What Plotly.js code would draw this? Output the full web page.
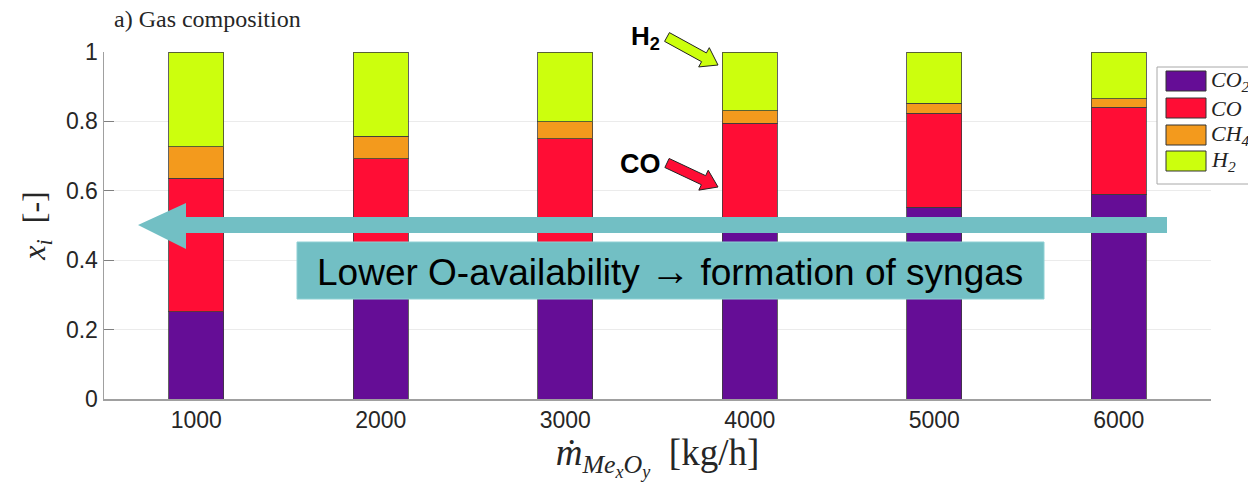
<!DOCTYPE html>
<html>
<head>
<meta charset="utf-8">
<script src="https://cdn.plot.ly/plotly-3.0.1.min.js"></script>
<style>html,body{margin:0;padding:0;background:#fff;}#chart{width:1248px;height:482px;}</style>
</head>
<body>
<div id="chart"></div>
<script>
// ---- data ----
const massFlow = [1000, 2000, 3000, 4000, 5000, 6000];
const xCO2 = [0.252, 0.340, 0.420, 0.490, 0.552, 0.590];
const xCO  = [0.384, 0.352, 0.330, 0.305, 0.271, 0.251];
const xCH4 = [0.091, 0.065, 0.049, 0.036, 0.029, 0.024];
const xH2  = [0.273, 0.243, 0.201, 0.169, 0.148, 0.135];
const seriesNames = ['<i>CO<sub>2</sub></i>', '<i>CO</i>', '<i>CH<sub>4</sub></i>', '<i>H<sub>2</sub></i>'];
const yTicks = [0, 0.2, 0.4, 0.6, 0.8, 1];
const yTickText = ['0', '0.2', '0.4', '0.6', '0.8', '1'];

const colors = ['#650D96', '#FF0D35', '#F39A1D', '#CCFF0D'];
const W = 1248, H = 482;
const L = 104, R = 1211, T = 52, B = 399;
const px = x => (x - L) / (R - L);
const py = y => (B - y) / (B - T);

const seriesVals = [xCO2, xCO, xCH4, xH2];
const traces = seriesVals.map((v, i) => ({
  type: 'bar', x: massFlow, y: v, name: seriesNames[i], width: 300,
  marker: {color: colors[i], line: {color: 'rgba(60,60,60,0.8)', width: 1}},
  hoverinfo: 'skip', showlegend: false
}));

function poly(pts) {
  return 'M ' + pts.map(p => px(p[0]) + ' ' + py(p[1])).join(' L ') + ' Z';
}
const bigArrow = poly([[1167,217],[186,217],[186,203],[138,225],[186,249],[186,233],[1167,233]]);
function blockArrow(x0, y0, x1, y1, sw, hw, hl) {
  const dx = x1 - x0, dy = y1 - y0, len = Math.hypot(dx, dy);
  const ux = dx / len, uy = dy / len, nx = -uy, ny = ux;
  const bx = x1 - ux * hl, by = y1 - uy * hl;
  return poly([
    [x0 + nx*sw, y0 + ny*sw], [bx + nx*sw, by + ny*sw], [bx + nx*hw, by + ny*hw], [x1, y1],
    [bx - nx*hw, by - ny*hw], [bx - nx*sw, by - ny*sw], [x0 - nx*sw, y0 - ny*sw]
  ]);
}
const h2Arrow = blockArrow(667, 37, 718, 65, 5, 11, 16);
const coArrow = blockArrow(667, 163, 718, 187, 5, 11, 16);

// manual legend (box clipped by the figure edge, as in the reference)
const legShapes = [
  {type: 'rect', xref: 'paper', yref: 'paper', x0: px(1157), x1: px(1260), y0: py(184), y1: py(67),
   fillcolor: '#fff', line: {color: '#a8a8a8', width: 1}, layer: 'above'}
];
const legAnn = [];
const legY = [81, 108, 135, 161];
seriesNames.forEach((n, i) => {
  legShapes.push({type: 'rect', xref: 'paper', yref: 'paper', x0: px(1166), x1: px(1206),
    y0: py(legY[i] + 10), y1: py(legY[i] - 10), fillcolor: colors[i], line: {color: '#333', width: 1}, layer: 'above'});
  legAnn.push({xref: 'paper', yref: 'paper', x: px(1209), y: py(legY[i]), xanchor: 'left', yanchor: 'middle',
    showarrow: false, text: n, font: {family: 'Liberation Serif, serif', size: 22, color: '#222'}});
});

const layout = {
  width: W, height: H,
  margin: {l: L, r: W - R, t: T, b: H - B, autoexpand: false},
  paper_bgcolor: '#fff', plot_bgcolor: '#fff',
  barmode: 'stack',
  showlegend: false,
  xaxis: {
    range: [500, 6500], tickvals: massFlow, ticktext: massFlow.map(String),
    showgrid: false, zeroline: false,
    showline: true, linecolor: '#a0a0a0', linewidth: 1.5,
    ticks: '', tickfont: {family: 'Arial, Liberation Sans, sans-serif', size: 23, color: '#262626'},
    title: {text: '<i>ṁ</i><sub><i>Me<sub>x</sub>O<sub>y</sub></i></sub>  [kg/h]', font: {family: 'Liberation Serif, serif', size: 37, color: '#262626'}, standoff: 13},
    fixedrange: true
  },
  yaxis: {
    range: [0, 1], tickvals: yTicks, ticktext: yTickText,
    showgrid: true, gridcolor: '#ebebeb', gridwidth: 1, zeroline: false,
    showline: true, linecolor: '#a0a0a0', linewidth: 1.5,
    ticks: 'inside', ticklen: 10, tickcolor: '#808080',
    tickfont: {family: 'Arial, Liberation Sans, sans-serif', size: 23, color: '#262626'},
    title: {text: '<i>x<sub>i</sub></i>  [-]', font: {family: 'Liberation Serif, serif', size: 32, color: '#262626'}, standoff: 10},
    fixedrange: true
  },
  shapes: [
    {type: 'path', xref: 'paper', yref: 'paper', path: bigArrow, fillcolor: '#72BFC4', line: {width: 0}, layer: 'above'},
    {type: 'rect', xref: 'paper', yref: 'paper', x0: px(297), x1: px(1044), y0: py(299), y1: py(242), fillcolor: '#72BFC4', line: {color: '#8fd0d4', width: 1}, layer: 'above'},
    {type: 'path', xref: 'paper', yref: 'paper', path: h2Arrow, fillcolor: '#CCFF0D', line: {color: '#222', width: 1}, layer: 'above'},
    {type: 'path', xref: 'paper', yref: 'paper', path: coArrow, fillcolor: '#FF0D35', line: {color: '#222', width: 1}, layer: 'above'}
  ].concat(legShapes),
  annotations: [
    {xref: 'paper', yref: 'paper', x: px(112), y: py(19), xanchor: 'left', yanchor: 'middle', showarrow: false,
     text: 'a) Gas composition', font: {family: 'Liberation Serif, serif', size: 24, color: '#262626'}},
    {xref: 'paper', yref: 'paper', x: px(670), y: py(271), xanchor: 'center', yanchor: 'middle', showarrow: false,
     text: 'Lower O-availability <span style="font-size:40px">→</span> formation of syngas', font: {family: 'Arial, Liberation Sans, sans-serif', size: 37, color: '#000'}},
    {xref: 'paper', yref: 'paper', x: px(662), y: py(38), xanchor: 'right', yanchor: 'middle', showarrow: false,
     text: '<b>H<sub>2</sub></b>', font: {family: 'Arial, Liberation Sans, sans-serif', size: 26, color: '#000'}},
    {xref: 'paper', yref: 'paper', x: px(663), y: py(164), xanchor: 'right', yanchor: 'middle', showarrow: false,
     text: '<b>CO</b>', font: {family: 'Arial, Liberation Sans, sans-serif', size: 27, color: '#000'}}
  ].concat(legAnn)
};

Plotly.newPlot('chart', traces, layout, {displayModeBar: false, staticPlot: true});
</script>
</body>
</html>
